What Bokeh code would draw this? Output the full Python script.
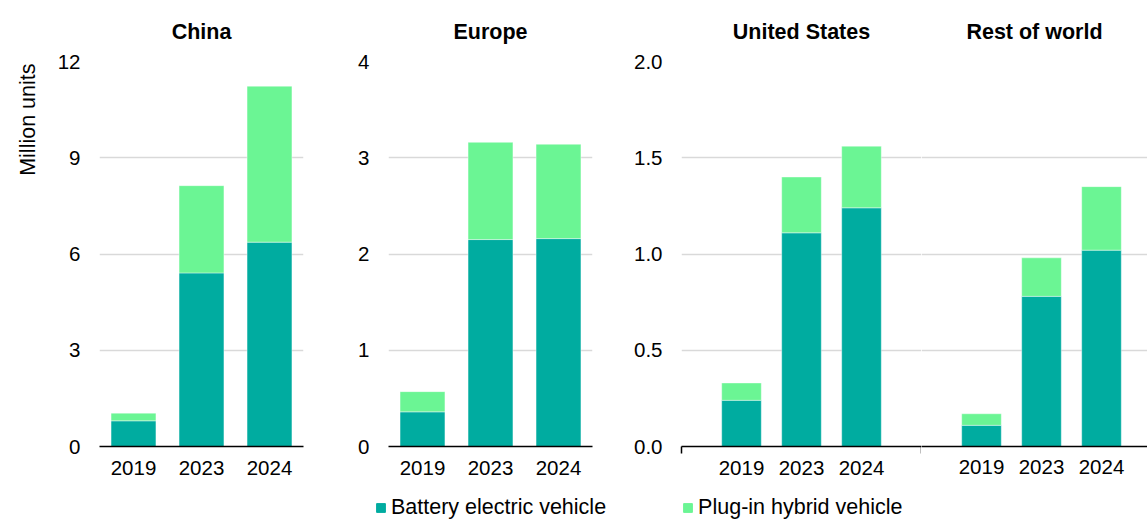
from bokeh.plotting import figure
from bokeh.models import (ColumnDataSource, FactorRange, Range1d, FixedTicker, Title,
                          Legend, LegendItem, NumeralTickFormatter)
from bokeh.layouts import row, column
from bokeh.embed import file_html
from bokeh.resources import INLINE

# ---------------- data ----------------
years = ["2019", "2023", "2024"]
series = ["Battery electric vehicle", "Plug-in hybrid vehicle"]

china_bev = [0.80, 5.41, 6.37]
china_phev = [0.24, 2.72, 4.86]

europe_bev = [0.36, 2.15, 2.16]
europe_phev = [0.21, 1.01, 0.98]

us_bev = [0.24, 1.11, 1.24]
us_phev = [0.09, 0.29, 0.32]

row_bev = [0.11, 0.78, 1.02]
row_phev = [0.06, 0.20, 0.33]

panel_titles = ["China", "Europe", "United States", "Rest of world"]
china_ticks = [0, 3, 6, 9, 12]
europe_ticks = [0, 1, 2, 3, 4]
us_ticks = [0, 0.5, 1.0, 1.5, 2.0]
y_label = "Million units"

# ---------------- style ----------------
BEV = "#00ACA0"
PHEV = "#6BF594"
FONT = "Liberation Sans"
TICK_FS = "20.5px"
TXT_FS = "21.5px"
GRID = "#d9d9d9"
SLOT_PX = 60.0


def style(p, ticks, fmt=None, title=None, title_offset=0, x_standoff=14):
    p.yaxis.ticker = FixedTicker(ticks=ticks)
    if fmt:
        p.yaxis.formatter = NumeralTickFormatter(format=fmt)
    p.yaxis.axis_line_color = None
    p.yaxis.major_tick_line_color = None
    p.yaxis.minor_tick_line_color = None
    p.yaxis.major_tick_out = 0
    p.yaxis.minor_tick_out = 0
    p.yaxis.major_label_standoff = 19
    p.ygrid.grid_line_color = GRID
    p.ygrid.grid_line_width = 1.3
    p.xgrid.grid_line_color = None
    p.xaxis.axis_line_color = "black"
    p.xaxis.axis_line_width = 1.6
    p.xaxis.major_tick_line_color = None
    p.xaxis.major_tick_out = 0
    p.xaxis.major_label_standoff = x_standoff
    for ax in (p.xaxis, p.yaxis):
        ax.major_label_text_font = FONT
        ax.major_label_text_font_size = TICK_FS
        ax.major_label_text_color = "black"
    p.outline_line_color = None
    p.background_fill_color = None
    p.border_fill_color = None
    if title:
        p.title.text = title
        p.title.align = "center"
        p.title.offset = title_offset
        p.title.standoff = 35
        p.title.text_font = FONT
        p.title.text_font_size = TXT_FS
        p.title.text_font_style = "bold"
        p.title.text_color = "black"


def borders(p, left, right, top, bottom):
    p.min_border_left, p.min_border_right = left, right
    p.min_border_top, p.min_border_bottom = top, bottom


stack_kw = dict(width=0.66, color=[BEV, PHEV], line_color="white",
                line_width=0.8, line_alpha=0.5)
H = 490

# ---------------- China ----------------
p1 = figure(width=340, height=H, x_range=FactorRange(factors=years, range_padding=0),
            y_range=Range1d(0, max(china_ticks)), output_backend="svg",
            toolbar_location=None)
borders(p1, 99, 37, 61, 41)
src1 = ColumnDataSource(dict(year=years, bev=china_bev, phev=china_phev))
p1.vbar_stack(["bev", "phev"], x="year", source=src1, **stack_kw)
style(p1, china_ticks, title=panel_titles[0])
p1.add_layout(Title(text=y_label, align="right", offset=2, standoff=26,
                    vertical_align="top",
                    text_font=FONT, text_font_size=TXT_FS, text_font_style="normal",
                    text_color="black"), "left")

# ---------------- Europe ----------------
p2 = figure(width=280, height=H, x_range=FactorRange(factors=years, range_padding=0),
            y_range=Range1d(0, max(europe_ticks)), output_backend="svg",
            toolbar_location=None)
borders(p2, 48, 28, 59, 44)
src2 = ColumnDataSource(dict(year=years, bev=europe_bev, phev=europe_phev))
p2.vbar_stack(["bev", "phev"], x="year", source=src2, **stack_kw)
style(p2, europe_ticks, title=panel_titles[1])

# ---------------- United States / Rest of world ----------------
n_slots = len(years) + 1
slot_x = [i + 1 for i in range(len(years))]
us_range = Range1d(0, max(us_ticks))

p3 = figure(width=301, height=H, x_range=Range1d(0, 240 / SLOT_PX), y_range=us_range,
            output_backend="svg", toolbar_location=None)
borders(p3, 61, 0, 60, 43)
src3 = ColumnDataSource(dict(x=slot_x, bev=us_bev, phev=us_phev))
p3.vbar_stack(["bev", "phev"], x="x", source=src3, **stack_kw)
style(p3, us_ticks, fmt="0.0", title=panel_titles[2], x_standoff=7)
p3.xaxis.ticker = FixedTicker(ticks=slot_x, minor_ticks=[0, n_slots])
p3.xaxis.minor_tick_line_color = "black"
p3.xaxis.minor_tick_line_width = 1.5
p3.xaxis.minor_tick_in = 0
p3.xaxis.minor_tick_out = 7

p4 = figure(width=226, height=H, x_range=Range1d(0, 226 / SLOT_PX), y_range=us_range,
            output_backend="svg", toolbar_location=None)
borders(p4, 0, 0, 60, 43)
src4 = ColumnDataSource(dict(x=slot_x, bev=row_bev, phev=row_phev))
p4.vbar_stack(["bev", "phev"], x="x", source=src4, **stack_kw)
style(p4, us_ticks, fmt="0.0", title=panel_titles[3], title_offset=6, x_standoff=13)
p4.xaxis.ticker = FixedTicker(ticks=slot_x)
p4.yaxis.visible = False

for p in (p3, p4):
    p.xaxis.major_label_overrides = {float(x): years[k] for k, x in enumerate(slot_x)}

# ---------------- legend ----------------
leg = figure(width=1147, height=30, x_range=FactorRange(factors=years),
             y_range=Range1d(0, 1), x_axis_location=None, y_axis_location=None,
             output_backend="svg", toolbar_location=None)
leg.min_border = 0
leg.outline_line_color = None
leg.background_fill_color = None
leg.border_fill_color = None
leg.grid.visible = False
leg_r = leg.vbar_stack(["bev", "phev"], x="year", source=src1, width=0.66,
                       color=[BEV, PHEV])
for r in leg_r:
    r.visible = False
legend = Legend(items=[LegendItem(label=series[0], renderers=[leg_r[0]]),
                       LegendItem(label=series[1], renderers=[leg_r[1]])],
                orientation="horizontal", location=(375, 0), padding=0, margin=0,
                spacing=76, glyph_width=11, glyph_height=11, label_standoff=5,
                border_line_color=None, background_fill_alpha=0,
                inactive_fill_alpha=0,
                label_text_font=FONT, label_text_font_size=TXT_FS,
                label_text_color="black")
leg.add_layout(legend)

layout = column(row(p1, p2, p3, p4), leg)
open("out.html", "w").write(file_html(layout, INLINE))
